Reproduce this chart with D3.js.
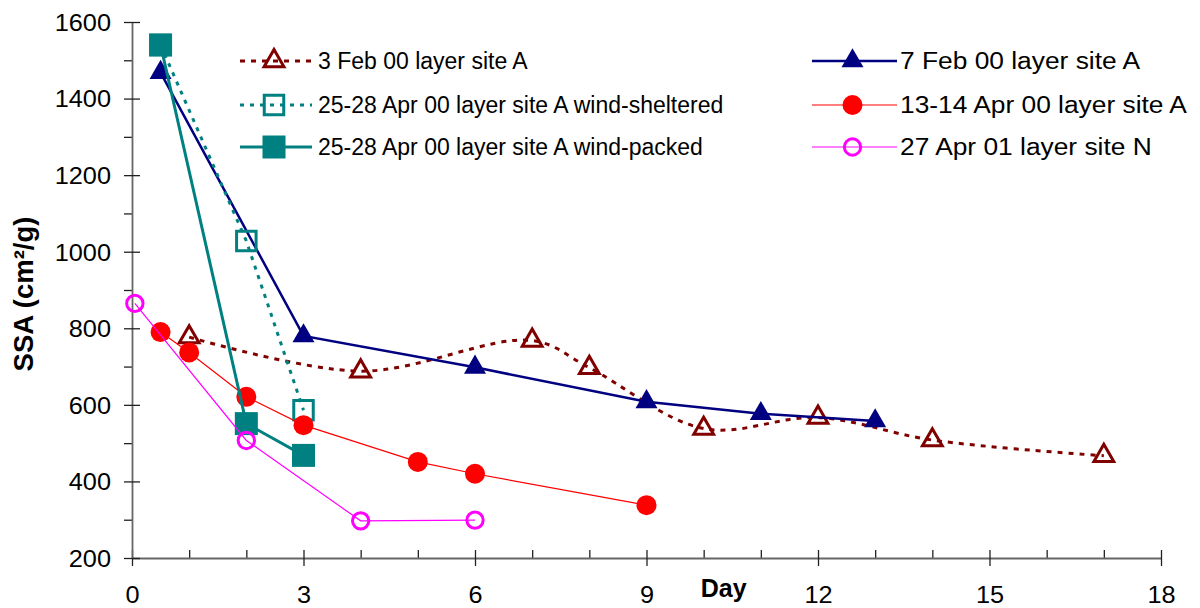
<!DOCTYPE html>
<html>
<head>
<meta charset="utf-8">
<script src="https://cdn.jsdelivr.net/npm/d3@7"></script>
<style>
  body { margin: 0; background: #fff; }
  svg { font-family: "Liberation Sans", Arial, sans-serif; }
</style>
</head>
<body>
<div class="chart"></div>
<script>
// Data
const days_3feb = [1, 4, 7, 8, 10, 12, 14, 17];
const ssa_3feb = [777, 688, 768, 697, 538, 567, 508, 467];
const days_7feb = [0.5, 3, 6, 9, 11, 13];
const ssa_7feb = [1468, 780, 698, 608, 577, 558];
const days_shelt = [0.5, 2, 3];
const ssa_shelt = [1540, 1028, 586];
const days_13apr = [0.5, 1, 2, 3, 5, 6, 9];
const ssa_13apr = [790, 737, 621, 547, 451, 420, 338];
const days_packed = [0.5, 2, 3];
const ssa_packed = [1540, 551, 468];
const days_27apr = [0.05, 2, 4, 6];
const ssa_27apr = [865, 507, 297, 299];

const x_ticks = [0, 3, 6, 9, 12, 15, 18];
const y_ticks = [200, 400, 600, 800, 1000, 1200, 1400, 1600];

const series = [
    {name: '3 Feb 00 layer site A', days: days_3feb, ssa: ssa_3feb,
     color: '#800000', width: 3, dash: '5,6', symbol: d3.symbolTriangle, size: 170, filled: false, smooth: true},
    {name: '7 Feb 00 layer site A', days: days_7feb, ssa: ssa_7feb,
     color: '#000080', width: 2.5, dash: null, symbol: d3.symbolTriangle, size: 210, filled: true, smooth: false},
    {name: '25-28 Apr 00 layer site A wind-sheltered', days: days_shelt, ssa: ssa_shelt,
     color: '#008080', width: 3, dash: '4,6', symbol: d3.symbolSquare, size: 380, filled: false, smooth: false},
    {name: '13-14 Apr 00 layer site A', days: days_13apr, ssa: ssa_13apr,
     color: '#ff0000', width: 1.2, dash: null, symbol: d3.symbolCircle, size: 314, filled: true, smooth: false},
    {name: '25-28 Apr 00 layer site A wind-packed', days: days_packed, ssa: ssa_packed,
     color: '#008080', width: 3, dash: null, symbol: d3.symbolSquare, size: 529, filled: true, smooth: false},
    {name: '27 Apr 01 layer site N', days: days_27apr, ssa: ssa_27apr,
     color: '#ff00ff', width: 1.2, dash: null, symbol: d3.symbolCircle, size: 210, filled: false, smooth: false}
];

const svg_width = 1200;
const svg_height = 608;
const margin = {top: 22, right: 39, bottom: 50, left: 132};
const chart_width = svg_width - margin.left - margin.right;
const chart_height = svg_height - margin.top - margin.bottom;

const svg = d3.select('.chart').append('svg')
    .attr('width', svg_width)
    .attr('height', svg_height);

const g = svg.append('g')
    .attr('transform', `translate(${margin.left}, ${margin.top})`);

const x_scale = d3.scaleLinear().domain([0, 18]).range([0, chart_width]);
const y_scale = d3.scaleLinear().domain([200, 1600]).range([chart_height, 0]);

// axes
const axis_color = '#666';
const label_stretch = 1.1;

const x_minor = d3.range(0, 19).filter(d => d % 3 !== 0);
g.append('g')
    .attr('transform', `translate(0, ${chart_height})`)
    .call(d3.axisBottom(x_scale).tickValues(x_minor).tickSize(-8).tickFormat(''))
    .call(a => a.select('.domain').remove())
    .call(a => a.selectAll('line').attr('stroke', '#222').attr('stroke-width', 1.3));

const x_axis = g.append('g')
    .attr('transform', `translate(0, ${chart_height})`)
    .call(d3.axisBottom(x_scale).tickValues(x_ticks).tickSizeOuter(0));
x_axis.select('.domain').attr('stroke', axis_color).attr('stroke-width', 1.8);
x_axis.selectAll('.tick line').attr('y1', -8).attr('y2', 8).attr('stroke', '#222').attr('stroke-width', 1.3);
x_axis.selectAll('.tick text')
    .attr('y', 0).attr('dy', 0)
    .attr('transform', `translate(0, 45) scale(${label_stretch}, 1)`)
    .style('font-size', '23px').style('fill', '#000');

const y_minor = d3.range(300, 1600, 200);
g.append('g')
    .call(d3.axisLeft(y_scale).tickValues(y_minor).tickSize(8).tickFormat(''))
    .call(a => a.select('.domain').remove())
    .call(a => a.selectAll('line').attr('stroke', '#222').attr('stroke-width', 1.3));

const y_axis = g.append('g')
    .call(d3.axisLeft(y_scale).tickValues(y_ticks).tickFormat(d3.format('d')).tickSizeOuter(0));
y_axis.select('.domain').attr('stroke', axis_color).attr('stroke-width', 1.8);
y_axis.selectAll('.tick line').attr('x1', -8).attr('x2', 8).attr('stroke', '#222').attr('stroke-width', 1.3);
y_axis.selectAll('.tick text')
    .attr('x', 0).attr('dy', '0.36em')
    .attr('transform', `translate(-21, 0) scale(${label_stretch}, 1)`)
    .style('font-size', '23px').style('fill', '#000');

// axis titles
g.append('text')
    .attr('x', x_scale(9.95))
    .attr('y', chart_height + 39)
    .style('font-size', '25px')
    .style('font-weight', 'bold')
    .text('Day');

svg.append('text')
    .attr('transform', 'translate(33, 294) rotate(-90)')
    .attr('text-anchor', 'middle')
    .style('font-size', '27.5px')
    .style('font-weight', 'bold')
    .text('SSA (cm²/g)');

// series
function draw_marker(sel, s) {
    sel.attr('d', d3.symbol().type(s.symbol).size(s.size))
        .attr('fill', s.filled ? s.color : 'none')
        .attr('stroke', s.filled ? 'none' : s.color)
        .attr('stroke-width', s.filled ? 0 : 3);
}

series.forEach(s => {
    const pts = s.days.map((d, i) => [d, s.ssa[i]]);
    const line = d3.line()
        .x(d => x_scale(d[0]))
        .y(d => y_scale(d[1]))
        .curve(s.smooth ? d3.curveCatmullRom.alpha(0.5) : d3.curveLinear);

    const sg = g.append('g').attr('class', 'series');
    sg.append('path')
        .attr('d', line(pts))
        .attr('fill', 'none')
        .attr('stroke', s.color)
        .attr('stroke-width', s.width)
        .attr('stroke-dasharray', s.dash);

    sg.selectAll('.marker')
        .data(pts)
        .join('path')
        .attr('class', 'marker')
        .attr('transform', d => `translate(${x_scale(d[0])}, ${y_scale(d[1])})`)
        .call(draw_marker, s);
});

// legend, two columns filled row by row
const legend_cols = [
    {x0: 240, x1: 312, text_x: 318, stretch: 1},
    {x0: 812, x1: 897, text_x: 900, stretch: 1.145}
];
const legend_rows = [61, 105, 147];

series.forEach((s, i) => {
    const col = legend_cols[i % 2];
    const y = legend_rows[Math.floor(i / 2)];
    const lg = svg.append('g').attr('class', 'legend-item');
    lg.append('line')
        .attr('x1', col.x0).attr('x2', col.x1)
        .attr('y1', y).attr('y2', y)
        .attr('stroke', s.color)
        .attr('stroke-width', s.width)
        .attr('stroke-dasharray', s.dash);
    lg.append('path')
        .attr('transform', `translate(${(col.x0 + col.x1) / 2 - 2}, ${y})`)
        .call(draw_marker, s);
    lg.append('text')
        .attr('transform', `translate(${col.text_x}, ${y}) scale(${col.stretch}, 1)`)
        .attr('dy', '0.36em')
        .style('font-size', '23px')
        .text(s.name);
});
</script>
</body>
</html>
